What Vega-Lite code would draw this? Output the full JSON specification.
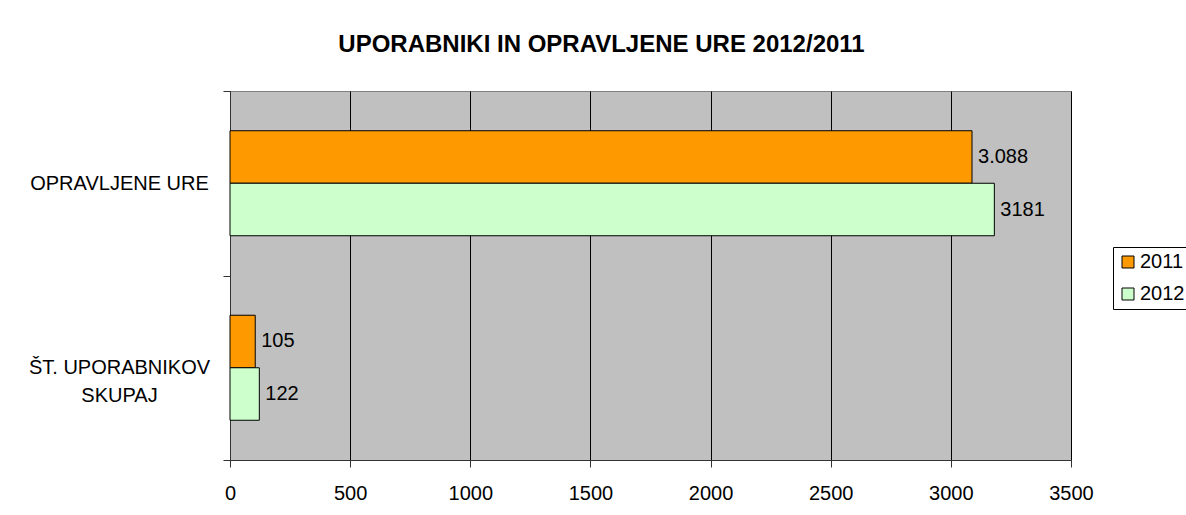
{
  "$schema": "https://vega.github.io/schema/vega-lite/v6.json",
  "width": 841,
  "height": 369,
  "autosize": {"type": "none"},
  "padding": {"left": 230, "top": 91, "right": 115, "bottom": 55},
  "background": "white",
  "title": {
    "text": "UPORABNIKI IN OPRAVLJENE URE 2012/2011",
    "font": "Liberation Sans",
    "fontSize": 24,
    "fontWeight": "bold",
    "color": "black",
    "anchor": "middle",
    "frame": "group",
    "dx": -49,
    "baseline": "alphabetic",
    "offset": 5
  },
  "data": {
    "values": [
      {"cat": "OPRAVLJENE URE", "year": "2011", "value": 3088, "label": "3.088"},
      {"cat": "OPRAVLJENE URE", "year": "2012", "value": 3181, "label": "3181"},
      {"cat": "ŠT. UPORABNIKOV SKUPAJ", "year": "2011", "value": 105, "label": "105"},
      {"cat": "ŠT. UPORABNIKOV SKUPAJ", "year": "2012", "value": 122, "label": "122"}
    ]
  },
  "encoding": {
    "y": {
      "field": "cat",
      "type": "nominal",
      "sort": ["OPRAVLJENE URE", "ŠT. UPORABNIKOV SKUPAJ"],
      "scale": {"paddingInner": 0, "paddingOuter": 0},
      "axis": {
        "title": null,
        "tickBand": "extent",
        "tickSize": 7,
        "tickColor": "#333333",
        "domainColor": "#333333",
        "labelAlign": "center",
        "labelBaseline": "middle",
        "labelPadding": 104,
        "labelFont": "Liberation Sans",
        "labelFontSize": 20,
        "labelColor": "black",
        "labelLimit": 0,
        "labelLineHeight": 28,
        "labelExpr": "datum.value == 'ŠT. UPORABNIKOV SKUPAJ' ? ['ŠT. UPORABNIKOV', 'SKUPAJ'] : datum.value"
      }
    },
    "yOffset": {
      "field": "year",
      "type": "nominal",
      "sort": ["2011", "2012"],
      "scale": {"paddingInner": 0, "paddingOuter": 0.757}
    },
    "x": {
      "field": "value",
      "type": "quantitative",
      "scale": {"domain": [0, 3500], "nice": false},
      "axis": {
        "title": null,
        "values": [0, 500, 1000, 1500, 2000, 2500, 3000, 3500],
        "format": "d",
        "grid": true,
        "gridColor": "black",
        "gridOpacity": 1,
        "gridWidth": 1,
        "tickSize": 7,
        "tickColor": "#333333",
        "domainColor": "#333333",
        "labelPadding": 16,
        "labelFont": "Liberation Sans",
        "labelFontSize": 20,
        "labelColor": "black",
        "labelFlush": false
      }
    }
  },
  "layer": [
    {
      "mark": {"type": "bar", "stroke": "black", "strokeWidth": 1},
      "encoding": {
        "color": {
          "field": "year",
          "type": "nominal",
          "scale": {"domain": ["2011", "2012"], "range": ["#FF9900", "#CCFFCC"]},
          "legend": {
            "title": null,
            "orient": "none",
            "legendX": 883,
            "legendY": 156,
            "strokeColor": "black",
            "fillColor": "white",
            "padding": 5,
            "symbolType": "square",
            "symbolSize": 144,
            "symbolStrokeColor": "black",
            "symbolStrokeWidth": 1,
            "symbolOpacity": 1,
            "labelFont": "Liberation Sans",
            "labelFontSize": 20,
            "labelColor": "black",
            "labelOffset": 2,
            "rowPadding": 12
          }
        }
      }
    },
    {
      "mark": {
        "type": "text",
        "align": "left",
        "baseline": "middle",
        "dx": 6,
        "font": "Liberation Sans",
        "fontSize": 20,
        "color": "black"
      },
      "encoding": {
        "text": {"field": "label", "type": "nominal"}
      }
    }
  ],
  "config": {
    "view": {"fill": "#C0C0C0", "stroke": "#808080", "strokeWidth": 1}
  }
}
